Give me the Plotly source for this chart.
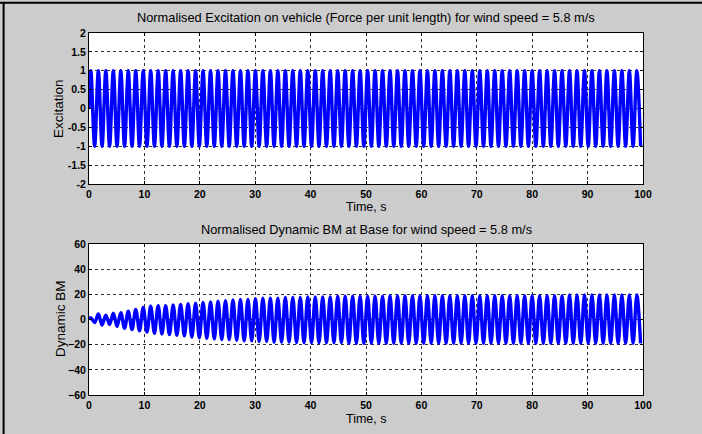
import plotly.graph_objects as go

W, H = 702, 434

# ---- data ----
PERIOD_S = 1.35          # oscillation period (both panels), s
T_END = 100.0
N_CYCLES = 74

# Excitation: constant unit amplitude peaks / troughs
exc_peak = [1.0] * N_CYCLES
exc_trough = [-1.0] * N_CYCLES

# Dynamic BM: per-cycle peak (upper) and trough (lower) values
bm_peak = [1.5, 4.5, 3.5, 5.0, 5.5, 6.5, 8.0, 9.5, 10.5, 11.0,
           11.0, 11.5, 12.0, 12.5, 13.0, 13.5, 14.0, 14.5, 15.0, 15.5,
           16.0, 16.0, 16.5, 17.0, 17.0, 17.0, 17.5, 17.5, 17.5, 18.0,
           18.0, 18.0, 18.0, 18.5, 18.5, 18.5, 18.5, 18.5, 18.5, 18.5,
           19.0, 19.0, 19.0, 19.0, 19.0, 19.0, 19.0, 19.0, 19.0, 19.0,
           19.0, 19.0, 19.0, 19.0, 19.0, 19.0, 19.0, 19.0, 19.0, 19.0,
           19.0, 19.0, 19.0, 19.0, 19.5, 19.5, 19.5, 19.5, 19.5, 19.5,
           19.5, 19.5, 19.5, 19.5]
bm_trough = [-2.5, -4.5, -4.0, -5.5, -7.0, -8.0, -9.0, -10.0, -11.0, -11.5,
             -12.0, -12.5, -13.0, -14.0, -14.5, -15.0, -15.5, -16.0, -16.0, -16.5,
             -17.0, -17.0, -17.5, -17.5, -18.0, -18.0, -18.0, -18.5, -18.5, -18.5,
             -18.5, -18.5, -18.5, -18.5, -19.0, -19.0, -19.0, -19.0, -19.0, -19.0,
             -19.0, -19.0, -19.0, -19.0, -19.0, -19.0, -19.0, -19.0, -19.0, -19.0,
             -19.0, -19.0, -19.0, -19.0, -19.0, -19.0, -19.0, -19.0, -19.0, -19.0,
             -19.0, -19.0, -19.0, -19.0, -19.0, -19.0, -19.0, -19.0, -19.0, -19.0,
             -19.0, -19.0, -19.0, -19.0]

x_ticks = [0, 10, 20, 30, 40, 50, 60, 70, 80, 90, 100]
y1_ticks = [-2, -1.5, -1, -0.5, 0, 0.5, 1, 1.5, 2]
y1_labels = ["-2", "-1.5", "-1", "-0.5", "0", "0.5", "1", "1.5", "2"]
y2_ticks = [-60, -40, -20, 0, 20, 40, 60]

title1 = "Normalised Excitation on vehicle (Force per unit length) for wind speed = 5.8 m/s"
title2 = "Normalised Dynamic BM at Base for wind speed = 5.8 m/s"


def extremes(peaks, troughs):
    t, v = [0.0], [0.0]
    for k in range(len(peaks)):
        tp = PERIOD_S * (k + 0.25)
        tt = PERIOD_S * (k + 0.75)
        if tp <= T_END:
            t.append(tp); v.append(peaks[k])
        if tt <= T_END:
            t.append(tt); v.append(troughs[k])
    return t, v


t1, v1 = extremes(exc_peak, exc_trough)
t2, v2 = extremes(bm_peak, bm_trough)

BLUE = "#0000ff"
FONT = "Liberation Sans, Arial, sans-serif"

fig = go.Figure()
fig.add_trace(go.Scatter(x=t1, y=v1, mode="lines", xaxis="x", yaxis="y",
                         line=dict(color=BLUE, width=3.4, shape="spline", smoothing=1.0),
                         showlegend=False))
fig.add_trace(go.Scatter(x=t2, y=v2, mode="lines", xaxis="x2", yaxis="y2",
                         line=dict(color=BLUE, width=3.4, shape="spline", smoothing=1.0),
                         showlegend=False))

x0, x1 = 89 / W, 643 / W
ax_common = dict(showline=True, linecolor="black", linewidth=1, mirror="ticks",
                 ticks="inside", ticklen=3, tickcolor="black",
                 showgrid=True, gridcolor="#333333", griddash="dot", gridwidth=1,
                 zeroline=False, automargin=False,
                 tickfont=dict(family=FONT, size=10.5, color="black", weight="bold"))

fig.update_layout(
    width=W, height=H,
    margin=dict(l=0, r=0, t=0, b=0, autoexpand=False),
    paper_bgcolor="#cccccc",
    plot_bgcolor="white",
    font=dict(family=FONT, color="black"),
    xaxis=dict(domain=[x0, x1], anchor="y", range=[0, 100], tickvals=x_ticks, **ax_common),
    yaxis=dict(domain=[1 - 184 / H, 1 - 33 / H], anchor="x", range=[-2, 2],
               tickvals=y1_ticks, ticktext=y1_labels, **ax_common),
    xaxis2=dict(domain=[x0, x1], anchor="y2", range=[0, 100], tickvals=x_ticks, **ax_common),
    yaxis2=dict(domain=[1 - 395 / H, 1 - 244 / H], anchor="x2", range=[-60, 60],
                tickvals=y2_ticks, **ax_common),
    annotations=[
        dict(text=title1, x=(x0 + x1) / 2, y=1 - 17 / H, xref="paper", yref="paper",
             showarrow=False, font=dict(size=12.8, family=FONT), xanchor="center", yanchor="middle"),
        dict(text=title2, x=(x0 + x1) / 2, y=1 - 229 / H, xref="paper", yref="paper",
             showarrow=False, font=dict(size=12.8, family=FONT), xanchor="center", yanchor="middle"),
        dict(text="Time, s", x=(x0 + x1) / 2, y=1 - 207 / H, xref="paper", yref="paper",
             showarrow=False, font=dict(size=12.5, family=FONT), xanchor="center", yanchor="middle"),
        dict(text="Time, s", x=(x0 + x1) / 2, y=1 - 419 / H, xref="paper", yref="paper",
             showarrow=False, font=dict(size=12.5, family=FONT), xanchor="center", yanchor="middle"),
        dict(text="Excitation", x=58 / W, y=1 - 108 / H, xref="paper", yref="paper", textangle=-90,
             showarrow=False, font=dict(size=13.5, family=FONT), xanchor="center", yanchor="middle"),
        dict(text="Dynamic BM", x=60 / W, y=1 - 319 / H, xref="paper", yref="paper", textangle=-90,
             showarrow=False, font=dict(size=13.5, family=FONT), xanchor="center", yanchor="middle"),
    ],
    shapes=[
        dict(type="line", xref="paper", yref="paper", x0=0, x1=1, y0=1 - 2.8 / H, y1=1 - 2.8 / H,
             line=dict(color="black", width=2)),
        dict(type="line", xref="paper", yref="paper", x0=3.6 / W, x1=3.6 / W, y0=0, y1=1 - 2 / H,
             line=dict(color="black", width=2)),
    ],
)

fig.write_html("out.html")
